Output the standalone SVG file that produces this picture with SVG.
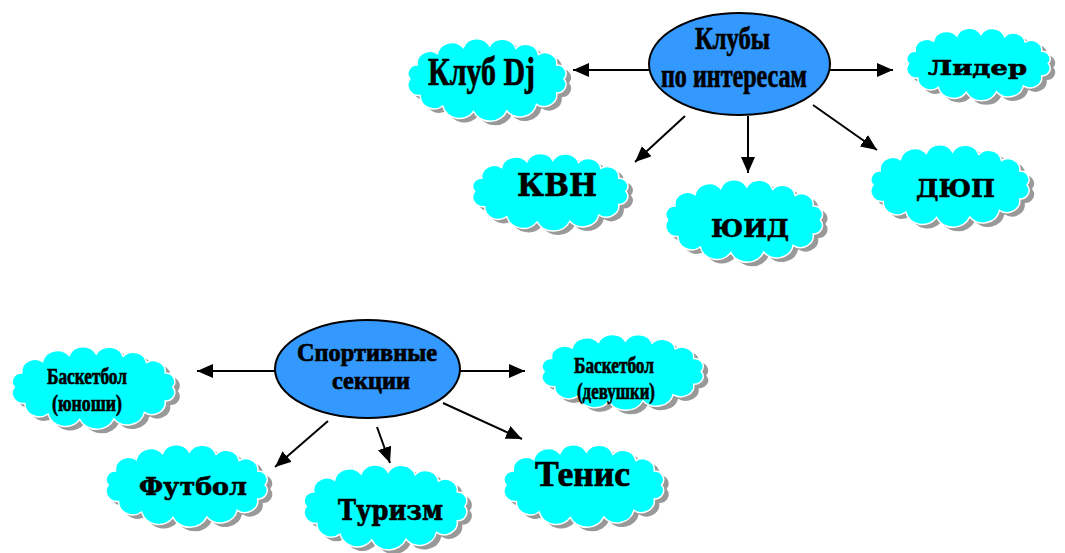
<svg xmlns="http://www.w3.org/2000/svg" xmlns:xlink="http://www.w3.org/1999/xlink" width="1065" height="553" viewBox="0 0 1065 553">
<style>
.shadow{fill:#999999;}
.cloud{fill:#00FFFF;stroke:#FFFFFF;}
#cloud{vector-effect:non-scaling-stroke;stroke-width:1.5;}
.hub{fill:#3399FF;stroke:#000000;stroke-width:2;}
.conn{stroke:#000000;stroke-width:2;fill:none;marker-end:url(#arrow);}
.c{font-family:"Liberation Serif","Times New Roman",serif;font-weight:bold;fill:#000;stroke:#000;stroke-width:0.7;}
.w{font-family:"DejaVu Serif","Liberation Serif",serif;font-weight:bold;fill:#000;stroke:#000;stroke-width:0.6;}
</style>
<defs>
<marker id="arrow" markerUnits="userSpaceOnUse" markerWidth="18" markerHeight="15" refX="16" refY="7" orient="auto">
<path d="M0,0 L16,7 L0,14 Z" fill="#000"/>
</marker>
<path id="cloud" d="M13,45 A8.6,8.6 0 0 1 19.8,31 A12,12 0 0 1 38.7,19.7 A13.7,13.7 0 0 1 62.8,13.6 A13.6,13.6 0 0 1 87.5,12 A13.5,13.5 0 0 1 112,14.4 A12.2,12.2 0 0 1 133.2,20.5 A11,11 0 0 1 150.2,31 A8.6,8.6 0 0 1 157,45 A8.6,8.6 0 0 1 150.2,59 A12,12 0 0 1 131.3,70.3 A15.7,15.7 0 0 1 103.6,76.9 A17,17 0 0 1 72.5,77.5 A16,16 0 0 1 43.7,72 A13,13 0 0 1 22.6,61.5 A10.5,10.5 0 0 1 13,45 Z"/>
</defs>
<g id="connectors">
<line class="conn" x1="649" y1="70" x2="573" y2="70"/>
<line class="conn" x1="830" y1="70" x2="893" y2="70"/>
<line class="conn" x1="685" y1="116" x2="635" y2="162"/>
<line class="conn" x1="748" y1="116" x2="748" y2="173"/>
<line class="conn" x1="813" y1="105" x2="877" y2="150"/>
<line class="conn" x1="275" y1="371" x2="197" y2="371"/>
<line class="conn" x1="460" y1="371" x2="525" y2="371"/>
<line class="conn" x1="328" y1="421" x2="275" y2="467"/>
<line class="conn" x1="377" y1="427" x2="390" y2="463"/>
<line class="conn" x1="443" y1="403" x2="522" y2="439"/>
</g>
<g id="hub-clubs">
<ellipse class="hub" cx="739.5" cy="64" rx="90.5" ry="51"/>
<text class="c" x="695" y="49" font-size="32" textLength="75" lengthAdjust="spacingAndGlyphs">Клубы</text>
<text class="c" x="661" y="87" font-size="33" textLength="146" lengthAdjust="spacingAndGlyphs">по интересам</text>
</g>
<g id="hub-sport">
<ellipse class="hub" cx="367.5" cy="369" rx="92.5" ry="49"/>
<text class="c" x="297" y="361" font-size="25" textLength="140" lengthAdjust="spacingAndGlyphs">Спортивные</text>
<text class="c" x="332" y="389" font-size="25" textLength="78" lengthAdjust="spacingAndGlyphs">секции</text>
</g>
<g id="node-dj">
<use xlink:href="#cloud" class="shadow" transform="translate(401,38) scale(1.07,1.0)"/>
<use xlink:href="#cloud" class="cloud" transform="translate(396,34) scale(1.07,1.0)"/>
<text class="c" x="428" y="85" font-size="40" textLength="107" lengthAdjust="spacingAndGlyphs">Клуб Dj</text>
</g>
<g id="node-lider">
<use xlink:href="#cloud" class="shadow" transform="translate(901,28) scale(0.97,0.88)"/>
<use xlink:href="#cloud" class="cloud" transform="translate(896,24) scale(0.97,0.88)"/>
<text class="w" x="928" y="75" font-size="21" textLength="99" lengthAdjust="spacingAndGlyphs">Лидер</text>
</g>
<g id="node-kvn">
<use xlink:href="#cloud" class="shadow" transform="translate(466,153) scale(1.05,0.94)"/>
<use xlink:href="#cloud" class="cloud" transform="translate(461,149) scale(1.05,0.94)"/>
<text class="w" x="517" y="196" font-size="31" textLength="80" lengthAdjust="spacingAndGlyphs">КВН</text>
</g>
<g id="node-uid">
<use xlink:href="#cloud" class="shadow" transform="translate(659,179) scale(1.06,1.0)"/>
<use xlink:href="#cloud" class="cloud" transform="translate(654,175) scale(1.06,1.0)"/>
<text class="w" x="711" y="237" font-size="24" textLength="78" lengthAdjust="spacingAndGlyphs">ЮИД</text>
</g>
<g id="node-dup">
<use xlink:href="#cloud" class="shadow" transform="translate(864,144) scale(1.07,1.0)"/>
<use xlink:href="#cloud" class="cloud" transform="translate(859,140) scale(1.07,1.0)"/>
<text class="w" x="916" y="197" font-size="24" textLength="79" lengthAdjust="spacingAndGlyphs">ДЮП</text>
</g>
<g id="node-basket-boys">
<use xlink:href="#cloud" class="shadow" transform="translate(5,346) scale(1.1,1.0)"/>
<use xlink:href="#cloud" class="cloud" transform="translate(0,342) scale(1.1,1.0)"/>
<text class="c" x="47" y="384" font-size="23" textLength="80" lengthAdjust="spacingAndGlyphs">Баскетбол</text>
<text class="c" x="52" y="411" font-size="23" textLength="70" lengthAdjust="spacingAndGlyphs">(юноши)</text>
</g>
<g id="node-basket-girls">
<use xlink:href="#cloud" class="shadow" transform="translate(535,334) scale(1.09,0.92)"/>
<use xlink:href="#cloud" class="cloud" transform="translate(530,330) scale(1.09,0.92)"/>
<text class="c" x="574" y="373" font-size="23" textLength="80" lengthAdjust="spacingAndGlyphs">Баскетбол</text>
<text class="c" x="577" y="399" font-size="23" textLength="78" lengthAdjust="spacingAndGlyphs">(девушки)</text>
</g>
<g id="node-football">
<use xlink:href="#cloud" class="shadow" transform="translate(99,444) scale(1.09,1.0)"/>
<use xlink:href="#cloud" class="cloud" transform="translate(94,440) scale(1.09,1.0)"/>
<text class="w" x="139" y="495" font-size="25" textLength="108" lengthAdjust="spacingAndGlyphs">Футбол</text>
</g>
<g id="node-tourism">
<use xlink:href="#cloud" class="shadow" transform="translate(297,464) scale(1.1,1.03)"/>
<use xlink:href="#cloud" class="cloud" transform="translate(292,460) scale(1.1,1.03)"/>
<text class="w" x="338" y="520" font-size="27" textLength="105" lengthAdjust="spacingAndGlyphs">Туризм</text>
</g>
<g id="node-tennis">
<use xlink:href="#cloud" class="shadow" transform="translate(497,444) scale(1.08,1.0)"/>
<use xlink:href="#cloud" class="cloud" transform="translate(492,440) scale(1.08,1.0)"/>
<text class="c" x="535" y="486" font-size="35" textLength="95" lengthAdjust="spacingAndGlyphs">Тенис</text>
</g>
</svg>
